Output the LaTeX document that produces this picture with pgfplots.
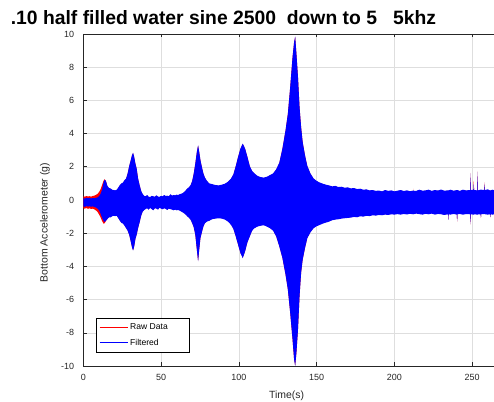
\documentclass[border=0pt]{standalone}
\usepackage{pgfplots}
\pgfplotsset{compat=1.18}
\usepackage{pgfplotstable}
\usepgfplotslibrary{fillbetween}
\usepackage{fontspec}
\setmainfont{Liberation Sans}
\definecolor{axgray}{gray}{0.15}
\definecolor{gridgray}{gray}{0.87}

% t, filtered upper, filtered lower, raw upper, raw lower
\pgfplotstableread{
t bu bl ru rl
0 0.12 -0.38 0.22 -0.50
1 0.08 -0.42 0.20 -0.52
2 0.14 -0.36 0.24 -0.48
3 0.10 -0.40 0.21 -0.53
4 0.13 -0.37 0.23 -0.50
5 0.09 -0.41 0.20 -0.54
6 0.12 -0.38 0.24 -0.52
7 0.10 -0.42 0.26 -0.56
8 0.13 -0.45 0.30 -0.62
9 0.15 -0.50 0.36 -0.70
10 0.22 -0.60 0.46 -0.85
11 0.35 -0.80 0.62 -1.02
12 0.60 -1.05 0.88 -1.25
13 1.05 -1.25 1.15 -1.42
13.7 1.22 -1.32 1.25 -1.40
14.5 1.15 -1.25 1.16 -1.27
15.5 0.85 -1.15 0.82 -1.12
16.5 0.72 -1.05 0.69 -1.02
17.5 0.70 -1.05 0.67 -1.02
18.5 0.62 -0.98 0.59 -0.95
19.5 0.60 -0.95 0.57 -0.92
20.5 0.58 -0.97 0.55 -0.94
21.5 0.62 -0.95 0.59 -0.92
22.5 0.75 -1.10 0.72 -1.07
23.5 0.90 -1.25 0.87 -1.22
24.5 1.00 -1.38 0.97 -1.35
25.5 1.05 -1.42 1.02 -1.39
26.5 1.20 -1.55 1.17 -1.52
27.5 1.30 -1.70 1.27 -1.67
28.5 1.60 -1.85 1.57 -1.82
29.5 2.05 -2.10 2.02 -2.07
30.5 2.40 -2.50 2.37 -2.47
31.3 2.70 -2.85 2.67 -2.82
32.0 2.85 -3.05 2.82 -3.02
32.7 2.60 -2.80 2.57 -2.77
33.5 2.20 -2.35 2.17 -2.32
34.3 1.90 -2.10 1.87 -2.07
35.2 1.30 -1.70 1.27 -1.67
36.2 0.90 -1.35 0.87 -1.32
37.2 0.55 -0.95 0.52 -0.92
38.2 0.35 -0.70 0.32 -0.67
39.2 0.25 -0.60 0.22 -0.57
40 0.22 -0.55 0.19 -0.52
41 0.30 -0.50 0.27 -0.47
42 0.20 -0.58 0.17 -0.55
43 0.18 -0.48 0.15 -0.45
44 0.25 -0.55 0.22 -0.52
45 0.22 -0.62 0.19 -0.59
46 0.20 -0.50 0.17 -0.47
47 0.28 -0.52 0.25 -0.49
48 0.21 -0.58 0.18 -0.55
49 0.19 -0.47 0.16 -0.44
50 0.25 -0.52 0.22 -0.49
51 0.22 -0.56 0.19 -0.53
52 0.30 -0.50 0.27 -0.47
53 0.24 -0.54 0.21 -0.51
54 0.26 -0.60 0.23 -0.57
55 0.22 -0.52 0.19 -0.49
56 0.35 -0.55 0.32 -0.52
57 0.26 -0.58 0.23 -0.55
58 0.30 -0.62 0.27 -0.59
59 0.28 -0.58 0.25 -0.55
60 0.32 -0.62 0.29 -0.59
61 0.30 -0.60 0.27 -0.57
62 0.35 -0.64 0.32 -0.61
63 0.38 -0.70 0.35 -0.67
64 0.42 -0.75 0.39 -0.72
65 0.50 -0.82 0.47 -0.79
66 0.60 -0.90 0.57 -0.87
67 0.70 -1.00 0.67 -0.97
68 0.78 -1.08 0.75 -1.05
69 0.90 -1.20 0.87 -1.17
70 1.15 -1.40 1.12 -1.37
71 1.60 -1.65 1.57 -1.62
72 2.20 -2.10 2.17 -2.07
73 2.90 -3.00 2.87 -2.97
73.8 3.30 -3.70 3.27 -3.67
74.5 2.90 -3.00 2.87 -2.97
75.3 2.40 -2.30 2.37 -2.27
76.2 2.00 -1.95 1.97 -1.92
77.2 1.60 -1.60 1.57 -1.57
78.2 1.35 -1.40 1.32 -1.37
79.5 1.15 -1.30 1.12 -1.27
81 1.00 -1.25 0.97 -1.22
83 0.95 -1.15 0.92 -1.12
85 0.90 -1.12 0.87 -1.09
87 0.88 -1.10 0.85 -1.07
89 0.92 -1.12 0.89 -1.09
91 0.98 -1.18 0.95 -1.15
93 1.10 -1.30 1.07 -1.27
95 1.30 -1.50 1.27 -1.47
96.5 1.55 -1.75 1.52 -1.72
98 2.05 -2.20 2.02 -2.17
99.5 2.60 -2.70 2.57 -2.67
101 3.10 -3.20 3.07 -3.17
102.5 3.40 -3.50 3.37 -3.47
104 3.10 -3.10 3.07 -3.07
105.5 2.60 -2.55 2.57 -2.52
107 2.05 -2.20 2.02 -2.17
108.5 1.75 -1.85 1.72 -1.82
110 1.60 -1.70 1.57 -1.67
112 1.45 -1.60 1.42 -1.57
114 1.38 -1.55 1.35 -1.52
116 1.35 -1.52 1.32 -1.49
118 1.40 -1.60 1.37 -1.57
120 1.50 -1.70 1.47 -1.67
122 1.60 -1.85 1.57 -1.82
124 1.85 -2.20 1.82 -2.17
126 2.25 -2.80 2.22 -2.77
128 3.10 -3.50 3.07 -3.47
130 4.20 -4.50 4.17 -4.47
131.5 5.20 -5.40 5.17 -5.37
133 6.80 -6.80 6.77 -6.77
134.5 8.60 -8.40 8.57 -8.37
135.5 9.50 -9.60 9.47 -9.57
136.2 9.85 -10.00 9.82 -9.97
137 8.80 -9.20 8.77 -9.17
138 7.40 -7.80 7.37 -7.77
139 5.60 -5.80 5.57 -5.77
140 4.40 -4.40 4.37 -4.37
141 3.50 -3.60 3.47 -3.57
142.5 2.70 -2.90 2.67 -2.87
144 2.05 -2.30 2.02 -2.27
146 1.60 -1.95 1.57 -1.92
148 1.30 -1.70 1.27 -1.67
150 1.15 -1.58 1.12 -1.55
152 1.05 -1.50 1.02 -1.47
154 0.98 -1.42 0.95 -1.39
156 0.92 -1.36 0.89 -1.33
158 0.88 -1.30 0.85 -1.27
160 0.82 -1.22 0.79 -1.19
162 0.85 -1.18 0.82 -1.15
164 0.78 -1.16 0.75 -1.13
166 0.80 -1.12 0.77 -1.09
168 0.74 -1.10 0.71 -1.07
170 0.76 -1.08 0.73 -1.05
172 0.70 -1.06 0.67 -1.03
174 0.72 -1.02 0.69 -0.99
176 0.66 -1.04 0.63 -1.01
178 0.68 -0.98 0.65 -0.95
180 0.62 -1.00 0.59 -0.97
182 0.64 -0.95 0.61 -0.92
184 0.58 -0.97 0.55 -0.94
186 0.60 -0.92 0.57 -0.89
188 0.55 -0.94 0.52 -0.91
190 0.57 -0.90 0.54 -0.87
192 0.52 -0.92 0.49 -0.89
194 0.60 -0.88 0.57 -0.85
196 0.55 -0.90 0.52 -0.87
198 0.58 -0.86 0.55 -0.83
200 0.52 -0.88 0.49 -0.85
202 0.56 -0.85 0.53 -0.82
204 0.60 -0.88 0.57 -0.85
206 0.54 -0.84 0.51 -0.81
208 0.58 -0.87 0.55 -0.84
210 0.53 -0.83 0.50 -0.80
211.9 0.56 -0.86 0.53 -0.83
212 0.60 -0.86 0.68 -0.83
212.1 0.56 -0.86 0.53 -0.83
214 0.55 -0.82 0.52 -0.79
216 0.62 -0.85 0.59 -0.82
218 0.56 -0.88 0.53 -0.85
220 0.58 -0.83 0.55 -0.80
222 0.62 -0.86 0.59 -0.83
224 0.55 -0.82 0.52 -0.79
226 0.60 -0.88 0.57 -0.85
228 0.57 -0.84 0.54 -0.81
230 0.63 -0.86 0.60 -0.83
232 0.56 -0.90 0.53 -0.87
234.4 0.58 -0.86 0.55 -0.83
234.6 0.58 -1.20 0.55 -1.17
234.8 0.58 -0.86 0.55 -0.83
236 0.62 -0.88 0.59 -0.85
238 0.56 -0.84 0.53 -0.81
240.1 0.60 -0.88 0.57 -0.85
240.3 0.60 -1.28 0.57 -1.32
240.5 0.60 -0.86 0.57 -0.83
242 0.55 -0.84 0.52 -0.81
244 0.62 -0.88 0.59 -0.85
246 0.58 -0.85 0.55 -0.82
248.8 0.60 -0.86 0.57 -0.83
249.0 1.60 -1.45 1.63 -1.48
249.2 0.60 -0.86 0.57 -0.83
250.8 0.62 -0.88 0.59 -0.85
251.0 0.95 -0.88 1.15 -0.85
251.2 0.60 -0.86 0.57 -0.83
253.3 0.58 -0.88 0.55 -0.85
253.5 1.70 -0.88 1.73 -0.85
253.7 0.58 -0.86 0.55 -0.83
255.4 0.62 -0.86 0.59 -0.83
255.6 0.62 -1.05 0.59 -1.08
255.8 0.62 -0.86 0.59 -0.83
257.8 0.60 -0.84 0.57 -0.81
258.0 1.00 -0.84 1.07 -0.81
258.2 0.60 -0.86 0.57 -0.83
260 0.64 -0.88 0.61 -0.85
261.4 0.58 -0.86 0.55 -0.83
261.6 0.58 -1.02 0.55 -1.05
261.8 0.58 -0.86 0.55 -0.83
263 0.62 -0.88 0.59 -0.85
264.5 0.58 -0.86 0.55 -0.83
}\sigdata

\begin{document}
\begin{tikzpicture}
\begin{axis}[
  at={(83.3bp,36bp)}, anchor=south west,
  scale only axis, width=410.7bp, height=332bp,
  xmin=0, xmax=264, ymin=-10, ymax=10,
  axis x line*=box, axis y line*=left,
  xtick={0,50,...,250}, ytick={-10,-8,...,10},
  grid=major, major grid style={gridgray, line width=0.5pt},
  axis line style={axgray, line width=0.6pt},
  tick style={axgray, line width=0.6pt},
  tick align=inside, major tick length=3.5bp,
  ticklabel style={font=\fontsize{9}{10}\selectfont, text=axgray},
  /pgf/number format/assume math mode=true,
  xticklabel style={inner sep=0pt, anchor=north, yshift=-8.5bp},
  yticklabel style={inner sep=0pt, anchor=east, xshift=-9bp},
  xlabel={Time(s)},
  xlabel style={font=\fontsize{10.5}{12}\selectfont, text=axgray, at={(axis description cs:0.495,-0.0895)}, anchor=center},
  ylabel={Bottom Accelerometer (g)},
  ylabel style={font=\fontsize{10.5}{12}\selectfont, text=axgray, at={(axis description cs:-0.0933,0.432)}, anchor=center},
  title={.10 half filled water sine 2500\ \ down to 5\ \ \ 5khz},
  title style={font=\fontsize{19.4}{22}\bfseries\selectfont, at={(axis description cs:-0.177,1.012)}, anchor=base west, inner sep=0pt},
  legend cell align=left,
  legend style={at={(axis description cs:0.030,0.144)}, anchor=north west,
    font=\fontsize{8.6}{10}\selectfont, draw=black, line width=0.5pt, fill=white,
    inner xsep=3bp, inner ysep=4.5bp, row sep=5.5bp, column sep=0pt,
    nodes={inner xsep=2bp, inner ysep=1bp}},
  legend image code/.code={\draw[line width=1.3pt, #1] (0bp,0bp) -- (28bp,0bp);},
]
\addplot[draw=none, name path=ru, forget plot] table[x=t, y=ru]{\sigdata};
\addplot[draw=none, name path=rl, forget plot] table[x=t, y=rl]{\sigdata};
\addplot[draw=none, name path=bu, forget plot] table[x=t, y=bu]{\sigdata};
\addplot[draw=none, name path=bl, forget plot] table[x=t, y=bl]{\sigdata};
\addplot[fill=red, draw=none, forget plot] fill between[of=ru and rl];
\addplot[fill=blue, draw=none, forget plot] fill between[of=bu and bl];
\addlegendimage{draw=red}
\addlegendentry{\makebox[54bp][l]{Raw Data}}
\addlegendimage{draw=blue}
\addlegendentry{\makebox[54bp][l]{Filtered}}
\end{axis}
\pgfresetboundingbox
\useasboundingbox (0,0) rectangle (494bp,402bp);
\end{tikzpicture}
\end{document}
